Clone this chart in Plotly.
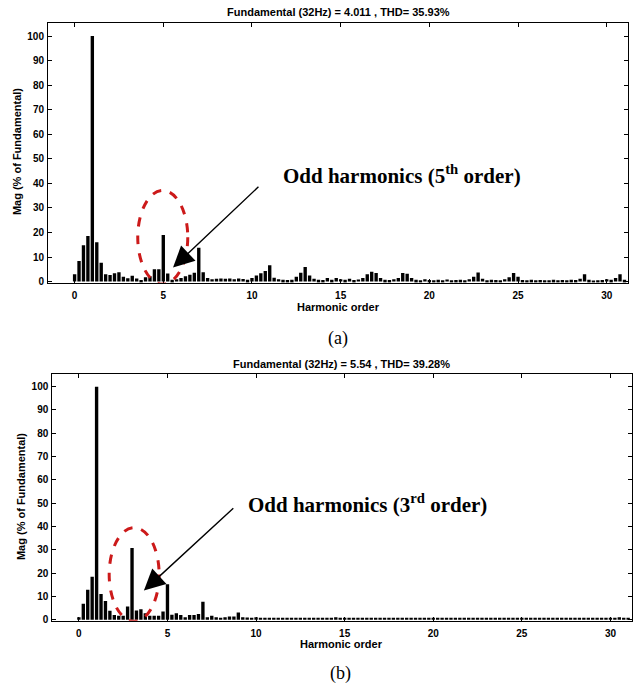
import plotly.graph_objects as go

# Harmonic orders (0 .. 31 in steps of 0.25)
orders = [i * 0.25 for i in range(125)]

# (a) magnitudes, % of fundamental
mag_a = [
    3.0, 8.4, 14.8, 18.6,     # 0
    100.0, 16.0, 7.7, 3.0,    # 1
    2.7, 3.4, 3.8, 2.0,       # 2
    1.4, 2.4, 1.3, 0.7,       # 3
    1.8, 2.2, 5.0, 5.0,       # 4
    19.0, 3.3, 0.8, 1.0,      # 5
    1.5, 2.2, 2.8, 3.6,       # 6
    13.8, 3.8, 1.5, 1.0,      # 7
    1.2, 1.3, 1.2, 1.3,       # 8
    1.0, 1.3, 1.1, 0.8,       # 9
    1.5, 2.5, 3.4, 4.3,       # 10
    6.7, 1.6, 1.0, 0.8,       # 11
    0.7, 0.8, 2.0, 3.6,       # 12
    6.0, 2.5, 1.2, 0.8,       # 13
    0.7, 1.5, 0.8, 1.5,       # 14
    1.0, 0.8, 1.2, 0.7,       # 15
    0.9, 1.5, 3.0, 4.0,       # 16
    3.5, 1.5, 0.8, 0.7,       # 17
    1.0, 1.5, 3.5, 3.2,       # 18
    1.5, 0.8, 0.6, 1.0,       # 19
    0.7, 0.6, 0.8, 0.6,       # 20
    0.9, 0.6, 0.7, 0.8,       # 21
    0.6, 1.0, 2.0, 3.7,       # 22
    1.2, 0.6, 0.8, 0.7,       # 23
    0.6, 1.0, 1.8, 3.5,       # 24
    2.0, 0.7, 0.6, 0.8,       # 25
    0.6, 0.7, 0.6, 0.6,       # 26
    0.8, 0.6, 0.7, 0.6,       # 27
    0.8, 0.7, 1.2, 3.0,       # 28
    0.8, 0.5, 0.6, 0.7,       # 29
    1.0, 0.8, 1.5, 3.0,       # 30
    0.8,                      # 31
]

# (b) magnitudes, % of fundamental
mag_b = [
    1.0, 6.8, 12.8, 18.4,     # 0
    100.0, 11.0, 8.0, 3.8,    # 1
    2.0, 1.7, 1.7, 5.7,       # 2
    30.8, 4.0, 4.5, 2.8,      # 3
    1.7, 1.7, 1.7, 3.5,       # 4
    15.2, 2.1, 2.8, 2.0,      # 5
    1.1, 2.0, 2.0, 2.4,       # 6
    7.7, 1.1, 1.7, 1.0,       # 7
    0.6, 1.0, 1.4, 1.4,       # 8
    3.1, 1.0, 0.9, 0.8,       # 9
    1.0, 0.7, 0.8, 0.6,       # 10
    0.8, 0.7, 0.6, 0.8,       # 11
    0.6, 0.7, 0.5, 0.7,       # 12
    0.6, 0.5, 0.7, 0.5,       # 13
    0.6, 0.8, 1.0, 0.6,       # 14
    0.5, 0.7, 0.6, 0.5,       # 15
    0.7, 0.5, 0.6, 0.5,       # 16
    0.6, 0.5, 0.4, 0.6,       # 17
    0.5, 0.7, 0.5, 0.6,       # 18
    0.5, 0.6, 0.4, 0.5,       # 19
    0.6, 0.5, 0.7, 0.4,       # 20
    0.5, 0.6, 0.5, 0.4,       # 21
    0.6, 0.5, 0.4, 0.5,       # 22
    0.6, 0.4, 0.5, 0.6,       # 23
    0.5, 0.8, 0.6, 0.5,       # 24
    0.4, 0.5, 0.4, 0.6,       # 25
    0.5, 0.4, 0.5, 0.4,       # 26
    0.6, 0.4, 0.5, 0.4,       # 27
    0.5, 0.4, 0.6, 0.5,       # 28
    0.4, 0.5, 0.4, 0.6,       # 29
    0.5, 0.7, 1.0, 0.6,       # 30
    0.5,                      # 31
]

x_ticks = [0, 5, 10, 15, 20, 25, 30]
y_ticks = [0, 10, 20, 30, 40, 50, 60, 70, 80, 90, 100]

title_a = "Fundamental (32Hz) = 4.011 , THD= 35.93%"
title_b = "Fundamental (32Hz) = 5.54 , THD= 39.28%"

W, H = 639, 688

fig = go.Figure()
fig.add_trace(go.Bar(x=orders, y=mag_a, width=0.19, marker=dict(color="black", line=dict(width=0)),
                     xaxis="x", yaxis="y", showlegend=False))
fig.add_trace(go.Bar(x=orders, y=mag_b, width=0.19, marker=dict(color="black", line=dict(width=0)),
                     xaxis="x2", yaxis="y2", showlegend=False))

tickfont = dict(family="Liberation Sans", size=10, color="black", weight="bold")
ax_common = dict(showline=True, linecolor="black", linewidth=1, mirror="allticks",
                 ticks="inside", ticklen=4, tickcolor="black", showgrid=False,
                 zeroline=False, tickfont=tickfont)

def px(x): return x / W
def py(y): return 1 - y / H

fig.update_layout(
    width=W, height=H, margin=dict(l=0, r=0, t=0, b=0),
    paper_bgcolor="white", plot_bgcolor="white",
    xaxis=dict(domain=[px(48), px(628)], range=[-1.5, 31.2], tickvals=x_ticks, anchor="y",
               ticklabelstandoff=3, **ax_common),
    yaxis=dict(domain=[py(284.5), py(22.7)], range=[-0.5, 105.5], tickvals=y_ticks, anchor="x",
               ticklabelstandoff=1, **ax_common),
    xaxis2=dict(domain=[px(52.3), px(631.7)], range=[-1.5, 31.2], tickvals=x_ticks, anchor="y2",
                ticklabelstandoff=3, **ax_common),
    yaxis2=dict(domain=[py(624.5), py(376)], range=[-0.5, 105.5], tickvals=y_ticks, anchor="x2",
                ticklabelstandoff=1, **ax_common),
)

lab = dict(family="Liberation Sans", size=11, color="black", weight="bold")
serif = dict(family="Liberation Serif", size=21, color="black", weight="bold")
anns = [
    dict(text=title_a, x=px(338), y=py(12), font=lab),
    dict(text=title_b, x=px(342), y=py(366), font=lab),
    dict(text="Harmonic order", x=px(338), y=py(309), font=lab),
    dict(text="Harmonic order", x=px(342), y=py(648), font=lab),
    dict(text="Mag (% of Fundamental)", x=px(17), y=py(153), font=lab, textangle=-90),
    dict(text="Mag (% of Fundamental)", x=px(21), y=py(500), font=lab, textangle=-90),
    dict(text="(a)", x=px(338), y=py(340), font=dict(family="Liberation Serif", size=18, color="black")),
    dict(text="(b)", x=px(340), y=py(677), font=dict(family="Liberation Serif", size=18, color="black")),
    dict(text="Odd harmonics (5<sup>th</sup> order)", x=px(402), y=py(176), font=serif),
    dict(text="Odd harmonics (3<sup>rd</sup> order)", x=px(367), y=py(506), font=serif),
]
for a in anns:
    fig.add_annotation(xref="paper", yref="paper", showarrow=False,
                       xanchor="center", yanchor="middle", **a)

# arrows
fig.add_annotation(xref="x", yref="y", axref="x", ayref="y", x=5.55, y=5.7, ax=10.45, ay=39.2,
                   text="", showarrow=True, arrowhead=2, arrowsize=3, arrowwidth=1.4, arrowcolor="black")
fig.add_annotation(xref="x2", yref="y2", axref="x2", ayref="y2", x=3.67, y=12.5, ax=8.8, ay=48.4,
                   text="", showarrow=True, arrowhead=2, arrowsize=3, arrowwidth=1.4, arrowcolor="black")

# dashed red ellipses
fig.add_shape(type="circle", xref="x", yref="y", x0=3.56, x1=6.38, y0=-1.0, y1=37.1,
              line=dict(color="#cc1a1a", width=3, dash="dash"))
fig.add_shape(type="circle", xref="x2", yref="y2", x0=1.71, x1=4.53, y0=-0.7, y1=39.5,
              line=dict(color="#cc1a1a", width=3, dash="dash"))

fig.write_html("out.html")
